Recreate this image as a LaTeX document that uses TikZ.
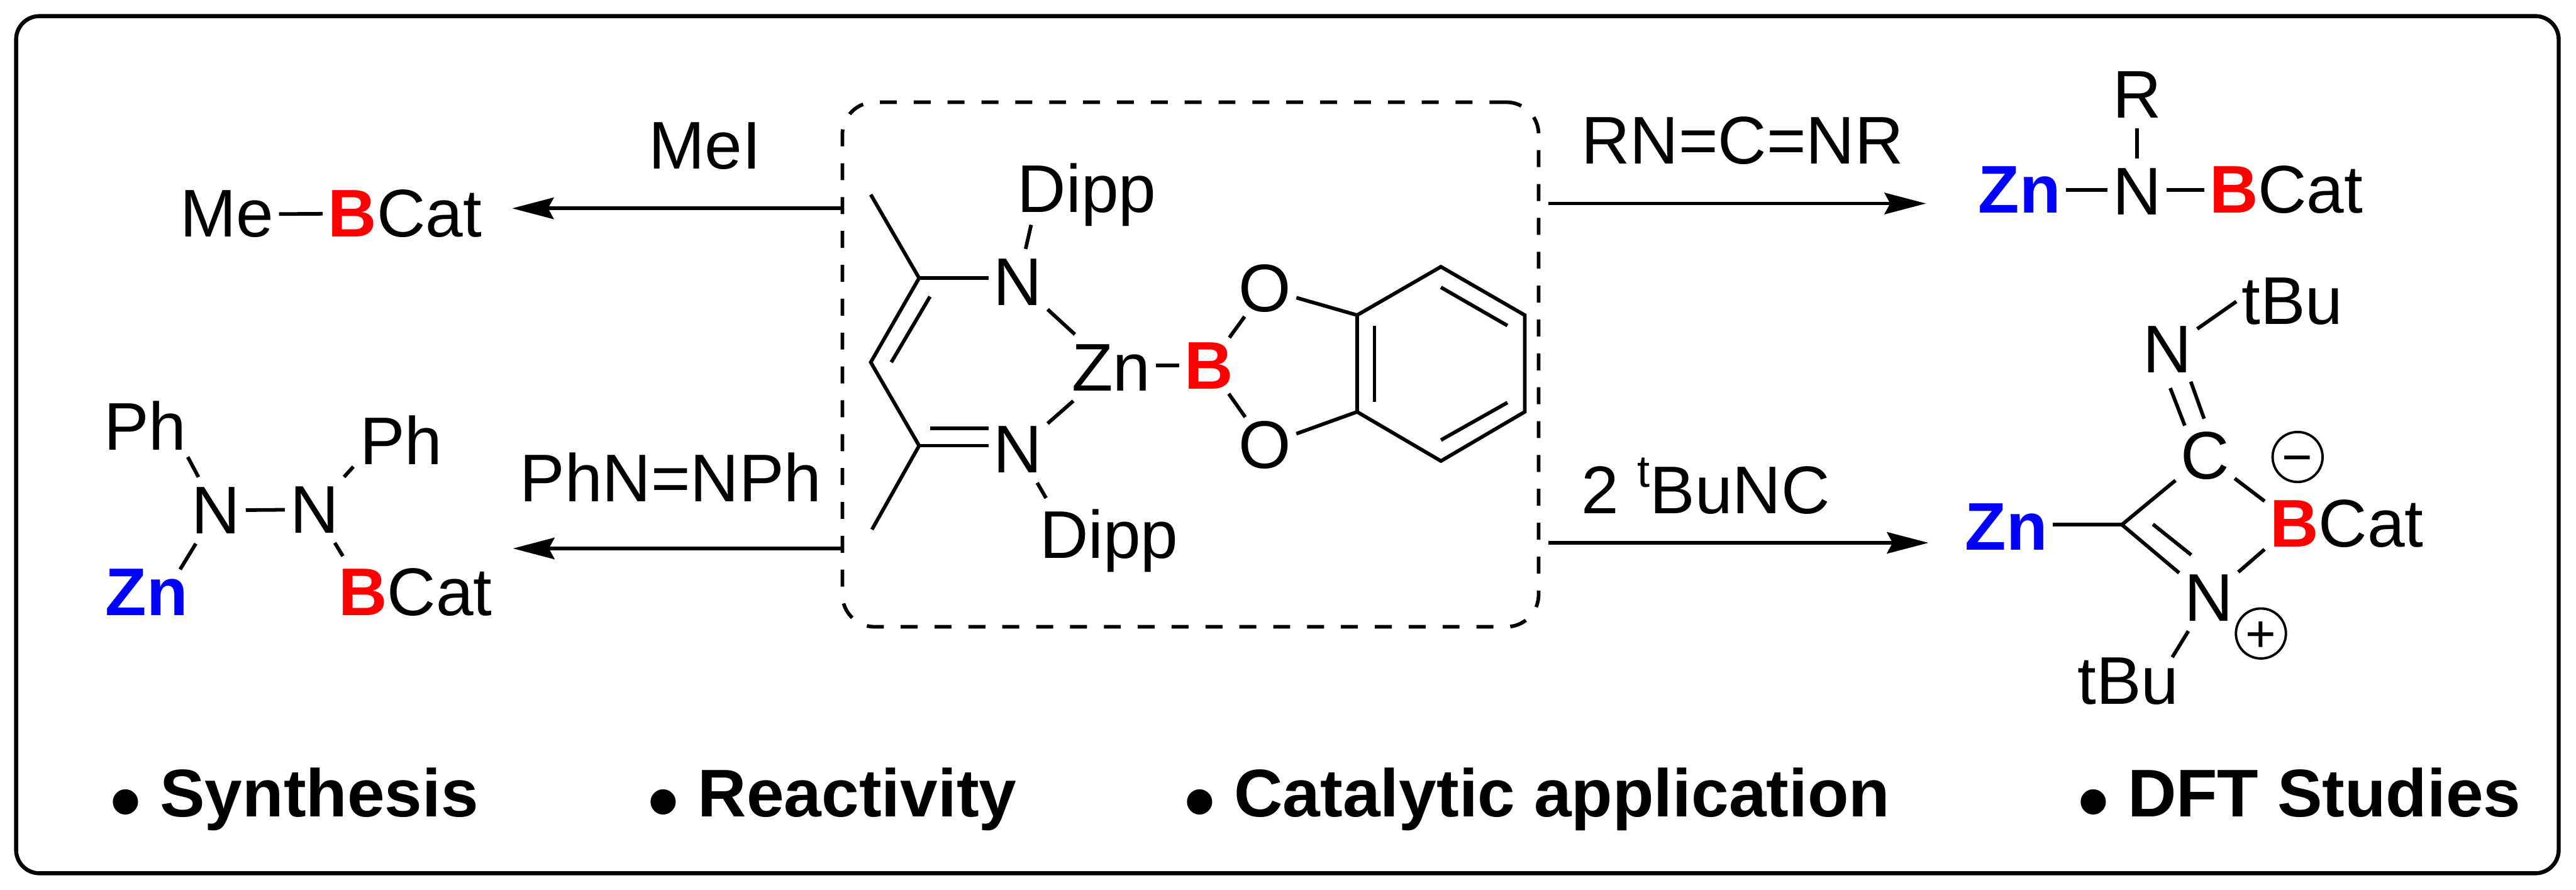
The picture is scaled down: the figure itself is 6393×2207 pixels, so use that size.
\documentclass[tikz,border=0pt]{standalone}
\usepackage{fontspec}
\setmainfont{Liberation Sans}
\usetikzlibrary{arrows.meta}
\definecolor{boron}{RGB}{255,0,0}
\definecolor{zinc}{RGB}{0,0,255}
\newcommand{\bul}{{\fontsize{62}{62}\selectfont\raisebox{-10pt}{•}}\hspace{13.3pt}}
\tikzset{
  bond/.style={line width=.09cm, line cap=butt, line join=miter},
  rxn/.style={line width=.09cm, -{Stealth[length=1.03cm, width=.53cm, inset=.14cm]}},
  atom/.style={anchor=base west, xshift=-.13cm, inner sep=0pt, outer xsep=.13cm, outer ysep=.25cm,
    font=\fontsize{47.6}{57}\selectfont},
  bold/.style={atom, font=\fontsize{47.6}{57}\selectfont\bfseries},
  charge/.style={circle, draw, line width=.06cm, minimum size=1.24cm, inner sep=0pt,
    text height=.91cm, text depth=0pt, font=\fontsize{37}{37}\selectfont},
}
\begin{document}
\begin{tikzpicture}[x=.01cm, y=-.01cm]
  \useasboundingbox (0,0) rectangle (6393,2207);
  \draw[line width=.1cm, rounded corners=.58cm] (40,40) rectangle (6350,2167);

  % central complex
  \node[draw, line width=.09cm, dash pattern=on .42cm off .42cm, rounded corners=.8cm, outer sep=0pt,
        minimum width=17.27cm, minimum height=13.01cm] (box) at (2954.5,904.5) {};
  \coordinate (mea) at (2161,483);
  \coordinate (ca) at (2281,690);
  \coordinate (cb) at (2161,899);
  \coordinate (cc) at (2281,1106);
  \coordinate (meb) at (2164,1314);
  \coordinate (caa) at (2308,736);
  \coordinate (cbb) at (2212,899);
  \coordinate (ccc) at (2308,1063);
  \coordinate (dippa) at (2559,558);
  \coordinate (dippb) at (2596,1236);
  \node[atom] (na) at (2466,758) {N};
  \node[atom] (nb) at (2466,1173) {N};
  \node[atom] at (2525,526) {Dipp};
  \node[atom] at (2580,1385) {Dipp};
  \node[atom] (zna) at (2660,970) {Zn};
  \node[bold, boron, outer ysep=.12cm] (ba) at (2940,965) {B};
  \node[atom, outer ysep=.1cm] (oa) at (3074,774) {O};
  \node[atom, outer ysep=.1cm] (ob) at (3074,1162) {O};
  \coordinate (ra) at (3368,782);
  \coordinate (rb) at (3576,662);
  \coordinate (rc) at (3784,782);
  \coordinate (rd) at (3784,1022);
  \coordinate (re) at (3576,1144);
  \coordinate (rf) at (3368,1022);
  \draw[bond] (mea) -- (ca) -- (cb) -- (cc) -- (meb);
  \draw[bond] (caa) -- (cbb);
  \draw[bond] (ca) -- (ca -| na.west);
  \draw[bond] (cc) -- (cc -| nb.west);
  \draw[bond] (ccc) -- (ccc -| nb.west);
  \draw[bond] (na) -- (dippa);
  \draw[bond] (nb) -- (dippb);
  \draw[bond] (na) -- (zna);
  \draw[bond] (nb) -- (zna);
  \draw[bond] (zna.east |- ba.west) -- (ba.west);
  \draw[bond] (ba) -- (oa);
  \draw[bond] (ba) -- (ob);
  \draw[bond] (oa) -- (ra);
  \draw[bond] (ob) -- (rf);
  \draw[bond] (ra) -- (rb) -- (rc) -- (rd) -- (re) -- (rf) -- cycle;
  \draw[bond] (3411,808) coordinate (sa) -- (3411,997) coordinate (sb);
  \draw[bond] (3576,713) coordinate (sc) -- (3741,808) coordinate (sd);
  \draw[bond] (3741,999) coordinate (se) -- (3576,1092) coordinate (sf);

  % arrows
  \coordinate (tipa) at (1271,517);
  \coordinate (tipb) at (1273,1361);
  \coordinate (tipc) at (4780,505);
  \coordinate (tipd) at (4786,1347);
  \draw[rxn] (box.west |- tipa) -- (tipa);
  \draw[rxn] (box.west |- tipb) -- (tipb);
  \draw[rxn] ([xshift=.24cm]box.east |- tipc) -- (tipc);
  \draw[rxn] ([xshift=.24cm]box.east |- tipd) -- (tipd);
  \node[atom] (mei) at (1610,419) {MeI};
  \node[atom] (azo) at (1290,1244) {PhN=NPh};
  \node[atom] (carbo) at (3924,406) {RN=C=NR};
  \node[atom] (iso) at (3924,1274) {2 \raisebox{.39em}{\fontsize{32}{32}\selectfont t}BuNC};

  % methyl product
  \node[atom] (mec) at (447,588) {Me};
  \node[bold, boron] (bb) at (814,588) {B};
  \node[atom] at (935,588) {Cat};
  \draw[bond] (mec.east) -- (bb.west);

  % hydrazine product
  \node[atom] at (258,1116) {Ph};
  \node[atom] at (893,1152) {Ph};
  \node[atom] (nc) at (476,1324) {N};
  \node[atom] (nd) at (720,1322) {N};
  \node[bold, zinc] at (262,1527) {Zn};
  \node[bold, boron] at (840,1528) {B};
  \node[atom] at (961,1528) {Cat};
  \coordinate (pha) at (466,1134);
  \coordinate (phb) at (877,1158);
  \coordinate (znb) at (447,1413);
  \coordinate (bc) at (851,1380);
  \draw[bond] (nc) -- (nd);
  \draw[bond] (nc) -- (pha);
  \draw[bond] (nd) -- (phb);
  \draw[bond] (nc) -- (znb);
  \draw[bond] (nd) -- (bc);

  % insertion product
  \node[atom] (ra1) at (5243,293) {R};
  \node[atom] (ne) at (5243,533) {N};
  \node[bold, zinc] (znc) at (4910,529) {Zn};
  \node[bold, boron] (bd) at (5483,529) {B};
  \node[atom] at (5604,529) {Cat};
  \draw[bond] (ra1) -- (ne);
  \draw[bond] (znc.east) -- (znc.east -| ne.west);
  \draw[bond] (bd.west -| ne.east) -- (bd.west);

  % four-membered ring
  \node[atom] (nf) at (5319,925) {N};
  \node[atom] (tbua) at (5563,805) {tBu};
  \node[atom] (cd) at (5412,1189) {C};
  \node[bold, zinc] (znd) at (4877,1365) {Zn};
  \node[bold, boron] (be) at (5633,1357) {B};
  \node[atom] at (5754,1357) {Cat};
  \node[atom] (ng) at (5421,1541) {N};
  \node[atom] at (5156,1748) {tBu};
  \node[charge] (minus) at (5702,1134) {−};
  \node[charge] (plus) at (5611,1572) {+};
  \coordinate (ce) at (5266,1302);
  \coordinate (tbub) at (5391,1631);
  \coordinate (dba) at (5386,963);
  \coordinate (dbb) at (5422,1056);
  \coordinate (dbc) at (5437,947);
  \coordinate (dbd) at (5470,1039);
  \coordinate (cea) at (5343,1301);
  \coordinate (ceb) at (5438,1377);
  \draw[bond] (nf) -- (tbua.west);
  \draw[bond] (dba) -- (dbb);
  \draw[bond] (dbc) -- (dbd);
  \draw[bond] (cd) -- (be);
  \draw[bond] (cd) -- (ce);
  \draw[bond] (ce) -- (ng);
  \draw[bond] (cea) -- (ceb);
  \draw[bond] (ng) -- (be);
  \draw[bond] (ng) -- (tbub);
  \draw[bond] (ce) -- (ce -| znd.east);

  % bottom line
  \node[bold] (syn) at (274,2027) {\bul Synthesis};
  \node[bold] (rea) at (1609,2027) {\bul Reactivity};
  \node[bold] (cat) at (2940,2027) {\bul Catalytic application};
  \node[bold] (dft) at (5157,2027) {\bul DFT Studies};
\end{tikzpicture}
\end{document}
